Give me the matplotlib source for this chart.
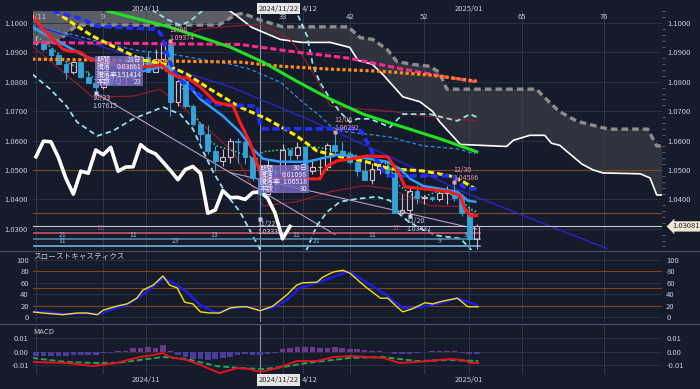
import numpy as np
import matplotlib
matplotlib.use("Agg")
import matplotlib.pyplot as plt
import matplotlib.transforms as mtransforms
from matplotlib.patches import Rectangle
from matplotlib.ticker import MultipleLocator

plt.rcParams["font.family"] = ["Noto Sans CJK JP", "DejaVu Sans"]

# ---- daily candles 2024/10/11 - 2025/01/03 ----
dates = ["10/11", "10/14", "10/15", "10/16", "10/17", "10/18", "10/21", "10/22", "10/23", "10/24",
         "10/25", "10/28", "10/29", "10/30", "10/31", "11/01", "11/04", "11/05", "11/06", "11/07",
         "11/08", "11/11", "11/12", "11/13", "11/14", "11/15", "11/18", "11/19", "11/20", "11/21",
         "11/22", "11/25", "11/26", "11/27", "11/28", "11/29", "12/02", "12/03", "12/04", "12/05",
         "12/06", "12/09", "12/10", "12/11", "12/12", "12/13", "12/16", "12/17", "12/18", "12/19",
         "12/20", "12/23", "12/24", "12/25", "12/26", "12/27", "12/30", "12/31", "01/02", "01/03"]
opens = [1.0937, 1.0937, 1.0910, 1.0891, 1.0862, 1.0833, 1.0866, 1.0817, 1.0797, 1.0784,
         1.0827, 1.0797, 1.0816, 1.0818, 1.0856, 1.0884, 1.0833, 1.0879, 1.0930, 1.0730,
         1.0802, 1.0719, 1.0655, 1.0623, 1.0564, 1.0530, 1.0545, 1.0598, 1.0596, 1.0543,
         1.0472, 1.0418, 1.0496, 1.0489, 1.0568, 1.0552, 1.0577, 1.0496, 1.0510, 1.0511,
         1.0586, 1.0566, 1.0555, 1.0527, 1.0498, 1.0467, 1.0502, 1.0512, 1.0489, 1.0353,
         1.0364, 1.0430, 1.0406, 1.0407, 1.0400, 1.0423, 1.0426, 1.0405, 1.0354, 1.0266]
highs = [1.0955, 1.0941, 1.0915, 1.0903, 1.0872, 1.0870, 1.0868, 1.0837, 1.0815, 1.0836,
         1.0837, 1.0823, 1.0829, 1.0871, 1.0885, 1.0905, 1.0913, 1.0936, 1.09374, 1.0806,
         1.0805, 1.0725, 1.0663, 1.0653, 1.0582, 1.0570, 1.0608, 1.0610, 1.0609, 1.0548,
         1.0497, 1.0533, 1.0514, 1.0588, 1.0572, 1.0596, 1.0581, 1.0537, 1.0545, 1.0591,
         1.06292, 1.0594, 1.0563, 1.0544, 1.0533, 1.0524, 1.0523, 1.0531, 1.0517, 1.0419,
         1.0446, 1.0448, 1.0415, 1.0410, 1.0430, 1.0444, 1.04586, 1.0417, 1.0376, 1.0317]
lows = [1.0924, 1.0906, 1.0880, 1.0859, 1.0811, 1.0827, 1.0812, 1.0797, 1.07615, 1.0775,
        1.0790, 1.0790, 1.0790, 1.0807, 1.0836, 1.0833, 1.0833, 1.0870, 1.0683, 1.0716,
        1.0710, 1.0651, 1.0595, 1.0555, 1.0497, 1.0513, 1.0523, 1.0524, 1.0520, 1.0461,
        1.03335, 1.0420, 1.0424, 1.0473, 1.0531, 1.0538, 1.0460, 1.0487, 1.0473, 1.0500,
        1.0555, 1.0537, 1.0520, 1.0481, 1.0466, 1.0454, 1.0485, 1.0475, 1.0356, 1.0350,
        1.03432, 1.0384, 1.0385, 1.0395, 1.0395, 1.0386, 1.0393, 1.0343, 1.0226, 1.0230]
closes = [1.0937, 1.0910, 1.0891, 1.0862, 1.0833, 1.0866, 1.0817, 1.0797, 1.0784, 1.0827,
          1.0797, 1.0816, 1.0818, 1.0856, 1.0884, 1.0833, 1.0879, 1.0930, 1.0730, 1.0802,
          1.0719, 1.0655, 1.0623, 1.0564, 1.0530, 1.0545, 1.0598, 1.0596, 1.0543, 1.0472,
          1.0418, 1.0496, 1.0489, 1.0568, 1.0552, 1.0577, 1.0496, 1.0510, 1.0511, 1.0586,
          1.0566, 1.0555, 1.0527, 1.0498, 1.0467, 1.0502, 1.0512, 1.0489, 1.0353, 1.0364,
          1.0430, 1.0406, 1.0407, 1.0400, 1.0423, 1.0426, 1.0405, 1.0354, 1.0266, 1.03081]

# ---- indicator lines, (bar index, price) ----
tenkan = [(-0.5, 1.1029), (0.9, 1.0979), (2.3, 1.0945), (3.6, 1.0911), (4.6, 1.0904), (5.9, 1.0901),
          (7.2, 1.0877), (9.9, 1.0864), (12.6, 1.0850), (14.3, 1.0850), (16.9, 1.0857), (17.5, 1.0839),
          (19.0, 1.0816), (20.3, 1.0813), (22.0, 1.0782), (24.0, 1.0731), (26.4, 1.0717), (27.3, 1.0663),
          (28.6, 1.0596), (29.6, 1.0521), (30.3, 1.0470), (38.0, 1.0470), (39.0, 1.0514), (40.3, 1.0531),
          (43.0, 1.0541), (44.3, 1.0548), (47.1, 1.0545), (47.7, 1.0521), (48.5, 1.0494), (49.4, 1.0443),
          (51.8, 1.0436), (55.4, 1.0426), (56.8, 1.0412), (57.4, 1.0368), (58.1, 1.0345), (59.0, 1.0345)]
kijun = [(-0.5, 1.1060), (2.8, 1.1036), (6.3, 1.1013), (8.2, 1.0989), (16.2, 1.0979), (16.9, 1.0955),
         (17.5, 1.0901), (18.3, 1.0843), (19.5, 1.0802), (20.6, 1.0785), (22.0, 1.0752), (23.7, 1.0724),
         (29.6, 1.0717), (30.0, 1.0650), (30.4, 1.0640), (43.0, 1.0640), (43.6, 1.0630), (44.3, 1.0596),
         (45.1, 1.0555), (46.5, 1.0497), (47.4, 1.0480), (55.8, 1.0480), (57.2, 1.0443), (57.8, 1.0436),
         (59.0, 1.0436)]
span_a = [(-0.5, 1.1085), (10.0, 1.1080), (20.0, 1.1075), (24.5, 1.1060), (25.9, 1.1042), (26.7, 1.1028),
          (28.9, 1.0985), (32.7, 1.0944), (35.6, 1.0934), (39.4, 1.0934), (42.0, 1.0917), (43.1, 1.0873),
          (45.0, 1.0860), (46.5, 1.0823), (49.1, 1.0749), (51.4, 1.0732), (53.1, 1.0699), (54.0, 1.0665),
          (56.8, 1.0587), (63.0, 1.0580), (63.9, 1.0601), (66.1, 1.0618), (68.1, 1.0618), (69.0, 1.0591),
          (70.1, 1.0584), (71.5, 1.0554), (73.1, 1.0520), (74.6, 1.0500), (75.9, 1.0490), (80.9, 1.0487),
          (82.2, 1.0473), (83.1, 1.0415), (84.0, 1.0415)]
span_b = [(-0.5, 1.0932), (2.6, 1.0932), (5.5, 1.0993), (24.5, 1.0993), (26.2, 1.1020), (26.7, 1.1028),
          (27.7, 1.1033), (30.0, 1.1010), (33.0, 1.0987), (41.8, 1.0987), (43.4, 1.0950), (45.1, 1.0944),
          (47.0, 1.0910), (48.3, 1.0869), (50.4, 1.0859), (52.7, 1.0853), (54.0, 1.0832), (55.0, 1.0775),
          (67.0, 1.0775), (68.3, 1.0741), (70.0, 1.0700), (72.4, 1.0666), (76.6, 1.0639), (81.9, 1.0639),
          (83.1, 1.0582), (84.0, 1.0582)]
ema = [(-0.5, 1.0985), (1.9, 1.0952), (4.1, 1.0921), (6.8, 1.0884), (9.9, 1.0860), (14.3, 1.0836),
       (16.6, 1.0850), (17.5, 1.0853), (19.7, 1.0809), (22.0, 1.0741), (25.0, 1.0684), (27.3, 1.0629),
       (29.0, 1.0572), (30.4, 1.0538), (32.7, 1.0528), (36.3, 1.0528), (38.0, 1.0538), (40.4, 1.0552),
       (42.0, 1.0548), (44.7, 1.0538), (47.0, 1.0528), (48.7, 1.0504), (50.1, 1.0470), (51.8, 1.0446),
       (54.1, 1.0436), (56.4, 1.0426), (57.2, 1.0409), (57.8, 1.0396), (58.8, 1.0392)]
ma_yellow = [(2.5, 1.1040), (5.5, 1.0989), (7.6, 1.0955), (10.3, 1.0921), (12.6, 1.0894), (14.3, 1.0874),
             (17.3, 1.0860), (20.2, 1.0826), (23.3, 1.0775), (27.3, 1.0714), (30.9, 1.0674), (34.9, 1.0616),
             (37.6, 1.0565), (40.7, 1.0545), (43.8, 1.0531), (47.4, 1.0504), (51.8, 1.0497), (55.4, 1.0480),
             (57.2, 1.0460), (58.8, 1.0436)]
ma_green = [(9.6, 1.1040), (17.5, 1.0989), (22.0, 1.0952), (26.0, 1.0918), (30.4, 1.0867), (34.9, 1.0802),
            (39.4, 1.0741), (43.8, 1.0690), (47.4, 1.0660), (54.1, 1.0606), (59.0, 1.0562)]
ma_magenta = [(-0.5, 1.0934), (27.3, 1.0927), (34.9, 1.0901), (42.0, 1.0880), (48.3, 1.0847),
              (55.0, 1.0816), (59.2, 1.0799)]
ma_orange = [(-0.5, 1.0877), (27.3, 1.0867), (32.7, 1.0853), (39.4, 1.0843), (46.1, 1.0836),
             (52.7, 1.0823), (59.0, 1.0802)]
bb_upper = [(15.5, 1.1045), (17.5, 1.1013), (19.3, 1.0992), (20.6, 1.1006), (22.0, 1.1036), (23.0, 1.1060),
            (28.0, 1.1100), (34.0, 1.1065), (34.7, 1.1046), (35.6, 1.0996), (36.3, 1.0955), (37.1, 1.0853),
            (38.0, 1.0799), (39.4, 1.0741), (40.7, 1.0697), (42.0, 1.0663), (43.0, 1.0674), (44.7, 1.0674),
            (47.4, 1.0646), (49.1, 1.0690), (52.7, 1.0690), (56.4, 1.0667), (58.1, 1.0690), (59.0, 1.0680)]
bb_lower = [(-0.5, 1.0826), (1.9, 1.0775), (4.1, 1.0717), (5.5, 1.0663), (8.2, 1.0616), (10.3, 1.0633),
            (13.0, 1.0674), (17.0, 1.0714), (19.3, 1.0690), (21.0, 1.0640), (22.4, 1.0562), (23.7, 1.0494),
            (25.6, 1.0413), (27.3, 1.0358), (29.0, 1.0277), (30.3, 1.0216), (35.3, 1.0180), (36.3, 1.0233),
            (37.6, 1.0311), (39.0, 1.0358), (40.7, 1.0392), (43.0, 1.0402), (45.6, 1.0409), (47.4, 1.0396),
            (48.3, 1.0358), (49.7, 1.0328), (51.4, 1.0301), (53.7, 1.0277), (56.8, 1.0267), (58.1, 1.0233),
            (59.0, 1.0205)]
ma_dotted = [(0.1, 1.0955), (2.3, 1.0911), (4.1, 1.0867), (6.8, 1.0833), (8.6, 1.0792), (11.9, 1.0809),
             (14.9, 1.0867), (16.2, 1.0853), (17.5, 1.0836), (19.3, 1.0809), (20.2, 1.0731), (21.6, 1.0674),
             (22.9, 1.0606), (24.2, 1.0582), (26.4, 1.0565), (29.6, 1.0538), (30.4, 1.0562), (34.0, 1.0572),
             (37.1, 1.0579), (40.7, 1.0565), (43.4, 1.0545), (47.0, 1.0521), (48.7, 1.0446), (51.0, 1.0402),
             (53.7, 1.0426), (56.4, 1.0412), (58.1, 1.0368), (59.0, 1.0358)]
red_upper = [(19.3, 1.0951), (22.0, 1.0979), (26.0, 1.0989), (30.0, 1.0996), (34.0, 1.0945), (35.7, 1.0887),
             (37.6, 1.0809), (39.4, 1.0717), (43.8, 1.0707), (47.4, 1.0700), (51.8, 1.0684), (59.0, 1.0667)]
red_lower = [(-0.5, 1.0921), (3.2, 1.0843), (7.6, 1.0748), (13.0, 1.0751), (16.6, 1.0775), (21.0, 1.0684),
             (26.4, 1.0562), (30.4, 1.0378), (34.9, 1.0392), (39.4, 1.0426), (43.8, 1.0447), (47.4, 1.0436),
             (52.7, 1.0379), (57.2, 1.0375), (59.0, 1.0351)]
thin_blue = [(-0.5, 1.0990), (5.0, 1.0960), (10.0, 1.0925), (14.0, 1.0905), (18.0, 1.0895), (22.0, 1.0877),
             (26.0, 1.0860), (28.6, 1.0843), (32.7, 1.0799), (35.7, 1.0731), (38.0, 1.0684), (39.4, 1.0650),
             (40.7, 1.0633), (47.4, 1.0612), (51.8, 1.0582), (56.4, 1.0572), (58.8, 1.0555)]
dark_blue = [(0.0, 1.0990), (26.0, 1.0783), (36.3, 1.0674), (47.4, 1.0545), (56.8, 1.0430), (76.4, 1.0233)]
trend_1 = [(8.0, 1.0761), (40.0, 1.0281)]
trend_2 = [(26.0, 1.0491), (59.0, 1.0299)]
level_lines = [1.0500, 1.0355]
count_levels = [1.0287, 1.0265, 1.0243]
count_labels = [[(8.6, "11"), (48.2, "17")],
                [(3.6, "21"), (13.0, "11"), (23.8, "13"), (34.9, "11"), (45.0, "11"), (57.5, "3")],
                [(3.6, "31"), (18.7, "23"), (37.6, "21"), (54.0, "9")]]

# ---- slow stochastics ----
stoch_k = [(-0.5, 9), (0.9, 7), (3.6, 4), (5.5, 7), (6.8, 7), (8.2, 4), (9.0, 12), (10.8, 19), (12.2, 23),
           (13.5, 33), (14.3, 47), (15.7, 56), (17.0, 72), (17.9, 56), (18.9, 51), (19.9, 26), (21.0, 23),
           (22.0, 9), (23.3, 7), (24.6, 7), (26.0, 16), (27.3, 18), (28.2, 18), (30.0, 11), (31.7, 19),
           (33.6, 39), (34.9, 56), (35.7, 60), (37.6, 61), (38.4, 70), (39.8, 79), (41.1, 82), (42.0, 77),
           (43.4, 61), (44.3, 51), (46.1, 33), (47.1, 33), (48.3, 18), (49.1, 9), (50.3, 14), (52.1, 25),
           (53.1, 23), (54.5, 28), (56.4, 33), (57.8, 18), (59.2, 18)]
stoch_d = [(-0.5, 9), (0.9, 9), (4.1, 5), (6.8, 7), (8.2, 5), (9.9, 12), (12.2, 22), (14.3, 39), (17.0, 68),
           (18.3, 61), (20.2, 44), (22.0, 21), (24.2, 7), (26.4, 16), (28.2, 18), (30.0, 12), (31.7, 16),
           (33.6, 30), (35.3, 51), (37.6, 60), (39.8, 70), (41.6, 79), (42.0, 79), (44.3, 60), (46.5, 42),
           (49.1, 16), (51.0, 16), (53.7, 23), (56.4, 33), (59.0, 21)]

# ---- MACD ----
macd_line = [(-0.5, -0.0074), (4.1, -0.0081), (7.6, -0.0104), (10.8, -0.0081), (13.9, -0.0037),
             (15.7, -0.0022), (17.0, -0.0007), (17.9, -0.0037), (20.2, -0.0059), (22.0, -0.0096),
             (24.6, -0.0156), (26.9, -0.0119), (28.6, -0.0126), (30.0, -0.0148), (32.3, -0.0119),
             (34.9, -0.0067), (37.6, -0.0067), (39.8, -0.0037), (42.0, -0.0030), (46.5, -0.0044),
             (48.7, -0.0081), (51.0, -0.0074), (55.4, -0.0052), (57.2, -0.0059), (58.1, -0.0081),
             (59.2, -0.0081)]
signal_line = [(-0.5, -0.0044), (4.1, -0.0074), (7.6, -0.0081), (10.8, -0.0081), (13.9, -0.0059),
               (17.0, -0.0037), (20.2, -0.0052), (24.2, -0.0104), (27.3, -0.0119), (30.4, -0.0126),
               (33.1, -0.0111), (36.3, -0.0081), (39.8, -0.0059), (42.0, -0.0044), (46.5, -0.0037),
               (48.7, -0.0052), (51.0, -0.0067), (55.4, -0.0059), (59.2, -0.0067)]
macd_hist = [-0.0030, -0.0030, -0.0030, -0.0028, -0.0028, -0.0025, -0.0025, -0.0022, -0.0020,
             -0.0010, -0.0005, 0.0005, 0.0010, 0.0030,
             0.0030, 0.0035, 0.0030, 0.0050, 0.0010,
             -0.0020, -0.0040, -0.0050, -0.0055, -0.0060, -0.0055, -0.0045, -0.0035,
             -0.0020, -0.0015, -0.0020, -0.0025, -0.0015, -0.0005,
             0.0020, 0.0030, 0.0035, 0.0040, 0.0035, 0.0030, 0.0030, 0.0035, 0.0030, 0.0025, 0.0020, 0.0015,
             0.0010, 0.0005, -0.0003, -0.0015, -0.0015, -0.0012, -0.0008,
             0.0003, 0.0006, 0.0008, 0.0006, 0.0004, -0.0008, -0.0012, -0.0012]

extremes = [(8, 1.07615, "10/23", "low"), (18, 1.09374, "11/06", "high"), (30, 1.03335, "11/22", "low"),
            (40, 1.06292, "12/06", "high"), (50, 1.03432, "12/20", "low"), (56, 1.04586, "12/30", "high")]
info_boxes = [(7.9, 14.3, 1.0887, 1.0785, ["期間", "騰落", "騰落率", "本数"], ["23日", "0.03661", "3.51414", "23"]),
              (29.8, 36.5, 1.0517, 1.0422, ["期間", "騰落", "騰落率", "本数"], ["30日", "0.01098", "1.06518", "30"])]
grid_idx = [0, 9, 14.7, 30, 33, 35.8, 42, 52, 58, 65, 76]
top_numbers = [(0, "10/11"), (9, "9"), (33, "33"), (42, "42"), (52, "52"), (65, "65"), (76, "76")]
month_labels = [(14.7, "2024/11"), (58, "2025/01")]
hidden_month = (35.6, "4/12")
cursor_idx = 30
cursor_label = "2024/11/22"
last_price = 1.03081

bg = "#161b2c"
txt = "#c4c8d4"
grid_c = "#2c3446"
W, H = 700, 389

fig = plt.figure(figsize=(7, 3.89), dpi=100, facecolor=bg)


def px_axes(x0, y0, x1, y1):
    a = fig.add_axes([x0 / W, 1 - y1 / H, (x1 - x0) / W, (y1 - y0) / H])
    a.set_facecolor(bg)
    for s in a.spines.values():
        s.set_visible(False)
    a.set_xlim(-0.4, 83.8)
    a.set_xticks([])
    a.tick_params(axis="y", which="major", length=0, labelsize=5.5, labelcolor=txt,
                  labelleft=True, labelright=True, pad=3)
    for g in grid_idx:
        a.axvline(g, color="#8a90a0" if g == cursor_idx else "#343c50",
                  lw=0.8 if g == cursor_idx else 0.6, zorder=0.8)
    return a


def line(a, pts, **kw):
    x, y = zip(*pts)
    a.plot(x, y, **kw)


ax = px_axes(33, 11, 662, 250)
ax_st = px_axes(33, 251, 662, 322)
ax_m = px_axes(33, 325, 662, 374)

# ---- main panel ----
ax.set_ylim(1.02279, 1.10408)
ax.set_yticks(np.arange(1.03, 1.1001, 0.01))
ax.set_yticklabels(["%.4f" % v for v in np.arange(1.03, 1.1001, 0.01)])
ax.yaxis.set_minor_locator(MultipleLocator(0.002))
ax.tick_params(axis="y", which="minor", left=False, right=True, length=2.5, color="#6a7080", width=0.6)
ax.tick_params(axis="y", which="major", pad=4)
ax.yaxis.get_major_ticks()[0].label2.set_visible(False)
for v in np.arange(1.03, 1.1001, 0.01):
    ax.axhline(v, color=grid_c, lw=0.6, zorder=0.7)
for v in level_lines:
    ax.axhline(v, color="#7a4a22", lw=0.8, zorder=0.9)

# cloud
sa = np.array(span_a)
sb = np.array(span_b)
cut = 26.7
for left, col in ((True, "#5b5d66"), (False, "#30323d")):
    ma = sa[:, 0] <= cut if left else sa[:, 0] >= cut
    mb = sb[:, 0] <= cut if left else sb[:, 0] >= cut
    ax.fill(np.r_[sa[ma, 0], sb[mb, 0][::-1]], np.r_[sa[ma, 1], sb[mb, 1][::-1]],
            color=col, lw=0, zorder=0.5)
line(ax, span_b, color="#8c8c8c", lw=2.4, ls=(0, (2, 1.2)), zorder=1.2)
line(ax, span_a, color="white", lw=1.2, zorder=1.2)

# bands / thin lines
line(ax, red_upper, color="#8e1c2a", lw=0.9, zorder=1.3)
line(ax, red_lower, color="#8e1c2a", lw=0.9, zorder=1.3)
line(ax, thin_blue, color="#2e8ae0", lw=0.9, ls=(0, (3, 2)), zorder=1.3)
line(ax, dark_blue, color="#2626d8", lw=0.9, zorder=1.3)
line(ax, trend_1, color="#b69ac8", lw=0.8, zorder=1.3)
line(ax, trend_2, color="#b69ac8", lw=0.8, zorder=1.3)
line(ax, bb_upper, color="#8fe3ea", lw=1.3, ls=(0, (3, 2)), zorder=1.4)
line(ax, bb_lower, color="#8fe3ea", lw=1.3, ls=(0, (3, 2)), zorder=1.4)
line(ax, ma_dotted, color="#2ee08a", lw=1.1, ls=(0, (1, 1.5)), zorder=1.4)

# count lines at bottom
for lvl, col, lab in zip(count_levels, ["#c8506e", "#4f86a8", "#6fb3d6"], count_labels):
    ax.plot([-0.4, 59.5], [lvl, lvl], color=col, lw=1.2, zorder=1.5)
    for xi, s in lab:
        ax.text(xi, lvl + 0.0002, s, color=col if col != "#4f86a8" else "#8fb8d4", fontsize=5,
                ha="center", va="bottom", zorder=6)
ax.axhline(last_price, color="#c8c8d0", lw=0.8, zorder=1.6)

# chikou span
n = len(closes)
idx = np.arange(n)
ax.plot(idx[:n - 25], closes[25:], color="white", lw=2.6, zorder=2.5)

# candles
o = np.array(opens)
c = np.array(closes)
h = np.array(highs)
l = np.array(lows)
up = c >= o
top = np.maximum(o, c)
bot = np.minimum(o, c)
up_c = "#d8b6c4"
dn_c = "#35a2d8"
ax.vlines(idx[up], h[up], top[up], color=up_c, lw=0.8, zorder=3)
ax.vlines(idx[up], bot[up], l[up], color=up_c, lw=0.8, zorder=3)
ax.bar(idx[up], (top - bot)[up], bottom=bot[up], width=0.62, facecolor="none",
       edgecolor=up_c, lw=0.8, zorder=3)
ax.vlines(idx[~up], l[~up], h[~up], color=dn_c, lw=0.8, zorder=3)
ax.bar(idx[~up], (top - bot)[~up], bottom=bot[~up], width=0.62, facecolor=dn_c,
       edgecolor=dn_c, lw=0.6, zorder=3)

# moving averages / ichimoku
line(ax, ma_magenta, color="#ff2b8f", lw=2.2, ls=(0, (2, 1)), zorder=3.5)
line(ax, ma_orange, color="#ff8c10", lw=2.3, ls=(0, (1, 0.8)), zorder=3.5)
line(ax, ma_green, color="#22e022", lw=2.2, zorder=3.5)
line(ax, ma_yellow, color="#ffee00", lw=2.2, ls=(0, (2, 1)), zorder=3.6)
line(ax, ema, color="#2f9dff", lw=1.8, zorder=3.7)
line(ax, kijun, color="#1f2fff", lw=2.6, ls=(0, (2, 1)), zorder=3.8)
line(ax, tenkan, color="#ff1a1a", lw=2.2, zorder=3.9)

# extreme labels
for xi, p, d, kind in extremes:
    col = "#e89aa8" if kind == "high" else "#c8cde8"
    ax.plot(xi, p, marker="s", ms=2.5, color=col, mec="none", zorder=6)
    if kind == "high":
        ax.text(xi - 0.1, p + 0.0040, d, color=col, fontsize=5, ha="left", va="center", zorder=6)
        ax.text(xi - 0.1, p + 0.0013, "%.5f" % p, color=col, fontsize=5, ha="left", va="center", zorder=6)
    else:
        ax.text(xi - 0.4, p - 0.0017, d, color=col, fontsize=5, ha="left", va="center", zorder=6)
        ax.text(xi - 0.4, p - 0.0043, "%.5f" % p, color=col, fontsize=5, ha="left", va="center", zorder=6)

# info boxes
for x0, x1, y0, y1, keys, vals in info_boxes:
    ax.add_patch(Rectangle((x0, y1), x1 - x0, y0 - y1, facecolor="#7c6cc4", alpha=0.82,
                           edgecolor="none", zorder=7))
    for k, (a, b) in enumerate(zip(keys, vals)):
        yy = y0 - (y0 - y1) * (k + 0.5) / 4
        ax.text(x0 + 0.2, yy, a, color="#ecebf8", fontsize=5, ha="left", va="center", zorder=8)
        ax.text(x1 - 0.2, yy, b, color="#ecebf8", fontsize=5, ha="right", va="center", zorder=8)

# top labels
tr = mtransforms.blended_transform_factory(ax.transData, ax.transAxes)
for xi, s in top_numbers:
    ax.text(xi, 0.975, s, transform=tr, color=txt, fontsize=5.5, ha="center", va="center",
            zorder=6, clip_on=True)
for xi, s in month_labels:
    ax.text(xi, 1.008, s, transform=tr, color=txt, fontsize=5.5, ha="center", va="center", zorder=6)
ax.text(hidden_month[0], 1.008, hidden_month[1], transform=tr, color=txt, fontsize=5.5, ha="left",
        va="center", zorder=6)
ax.text(cursor_idx - 0.2, 1.01, cursor_label, transform=tr, color="#303030", fontsize=5.5, ha="left",
        va="center", zorder=9, bbox=dict(boxstyle="square,pad=0.2", fc="#e6e6e6", ec="none"))
ax.text(1.016, last_price, "%.5f" % last_price,
        transform=mtransforms.blended_transform_factory(ax.transAxes, ax.transData),
        color="#202020", fontsize=5.5, ha="left", va="center", zorder=10, clip_on=False,
        bbox=dict(boxstyle="larrow,pad=0.15", fc="#efe9d6", ec="none"))

# ---- stochastics ----
ax_st.set_ylim(-8.8, 115.8)
ax_st.set_yticks([0, 20, 40, 60, 80, 100])
for v in [0, 40, 60, 100]:
    ax_st.axhline(v, color=grid_c, lw=0.6, zorder=0.7)
for v in [20, 50, 80]:
    ax_st.axhline(v, color="#7a4420", lw=0.8, zorder=0.9)
line(ax_st, stoch_d, color="#1a1aff", lw=1.6, zorder=3)
line(ax_st, stoch_k, color="#f0e010", lw=1.0, zorder=3.2)
ax_st.text(0.0, 0.915, "スローストキャスティクス", transform=ax_st.transAxes, color=txt,
           fontsize=5.5, ha="left", va="center")

# ---- MACD ----
ax_m.set_ylim(-0.0163, 0.0200)
ax_m.set_yticks([-0.01, 0.0, 0.01])
ax_m.set_yticklabels(["-0.01", "0.00", "0.01"])
for v in [-0.01, 0.0, 0.01]:
    ax_m.axhline(v, color=grid_c, lw=0.6, zorder=0.7)
hist = np.array(macd_hist)
ax_m.bar(idx, hist, width=0.75, color=np.where(hist >= 0, "#6a3a86", "#4a3c9a"), zorder=1.5)
line(ax_m, signal_line, color="#1aa85a", lw=1.4, ls=(0, (3, 1.5)), zorder=3)
line(ax_m, macd_line, color="#e8101a", lw=1.4, zorder=3.2)
ax_m.text(0.0, 0.857, "MACD", transform=ax_m.transAxes, color=txt, fontsize=5.5, ha="left", va="center")
trm = mtransforms.blended_transform_factory(ax_m.transData, ax_m.transAxes)
for xi, s in month_labels:
    ax_m.text(xi, -0.122, s, transform=trm, color=txt, fontsize=5.5, ha="center", va="center")
ax_m.text(hidden_month[0], -0.122, hidden_month[1], transform=trm, color=txt, fontsize=5.5, ha="left",
          va="center")
ax_m.text(cursor_idx - 0.2, -0.122, cursor_label, transform=trm, color="#303030", fontsize=5.5, ha="left",
          va="center", zorder=9, bbox=dict(boxstyle="square,pad=0.2", fc="#e6e6e6", ec="none"))

# panel separators
for yy in (251, 324):
    fig.add_artist(plt.Line2D([0, 1], [1 - yy / H, 1 - yy / H], color="#4a5064", lw=0.8))

fig.savefig("out.png", dpi=100, facecolor=bg)
